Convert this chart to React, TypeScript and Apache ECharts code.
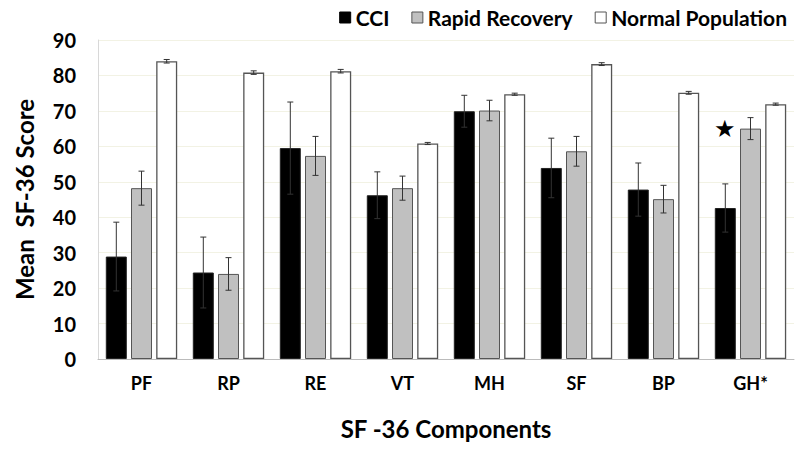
import React, { useEffect, useRef } from "react";
import * as echarts from "echarts";

const categories = ["PF", "RP", "RE", "VT", "MH", "SF", "BP", "GH*"];
const cciMean = [28.9, 24.4, 59.5, 46.2, 69.9, 53.9, 47.8, 42.6];
const cciErr = [9.7, 10.0, 13.0, 6.6, 4.5, 8.4, 7.5, 6.8];
const rrMean = [48.2, 24.0, 57.3, 48.2, 70.1, 58.6, 45.1, 65.0];
const rrErr = [4.8, 4.6, 5.5, 3.4, 2.9, 4.2, 3.9, 3.1];
const npMean = [84.0, 80.8, 81.2, 60.8, 74.7, 83.2, 75.1, 71.9];
const npErr = [0.5, 0.5, 0.5, 0.3, 0.3, 0.4, 0.4, 0.3];
const yTicks = [0, 10, 20, 30, 40, 50, 60, 70, 80, 90];
const starValue = 65.3;

const FONT = "Lato, 'Open Sans', sans-serif";
const BAR_W = 21;
const BAR_STEP = 25.2;

function errSeries(name: string, means: number[], errs: number[], idx: number) {
  return {
    type: "custom",
    name: name + " error",
    z: 10,
    silent: true,
    data: means.map((m, i) => [i, m - errs[i], m + errs[i]]),
    renderItem: (params: any, api: any) => {
      const c = api.value(0);
      const lo = api.coord([c, api.value(1)]);
      const hi = api.coord([c, api.value(2)]);
      const x = lo[0] + (idx - 1) * BAR_STEP;
      const cap = 3;
      const style = { stroke: "#333", lineWidth: 1 };
      return {
        type: "group",
        children: [
          { type: "line", shape: { x1: x, y1: hi[1], x2: x, y2: lo[1] }, style },
          { type: "line", shape: { x1: x - cap, y1: hi[1], x2: x + cap, y2: hi[1] }, style },
          { type: "line", shape: { x1: x - cap, y1: lo[1], x2: x + cap, y2: lo[1] }, style },
        ],
      };
    },
  };
}

export default function App() {
  const ref = useRef<HTMLDivElement>(null);
  useEffect(() => {
    if (!ref.current) return;
    const chart = echarts.init(ref.current, undefined, { renderer: "svg" });
    chart.setOption({
      animation: false,
      backgroundColor: "#ffffff",
      textStyle: { fontFamily: FONT },
      legend: {
        top: 2,
        right: 8,
        itemWidth: 11,
        itemHeight: 11,
        itemGap: 22,
        icon: "rect",
        textStyle: { fontFamily: FONT, fontSize: 21, fontWeight: "bold", color: "#000" },
        data: [
          { name: "CCI", itemStyle: { color: "#000", borderColor: "#000", borderWidth: 1 } },
          { name: "Rapid Recovery", itemStyle: { color: "#c0c0c0", borderColor: "#555", borderWidth: 1 } },
          { name: "Normal Population", itemStyle: { color: "#fff", borderColor: "#555", borderWidth: 1 } },
        ],
      },
      grid: { left: 98, right: 6, top: 40, bottom: 91 },
      xAxis: {
        type: "category",
        data: categories,
        name: "SF -36 Components",
        nameLocation: "middle",
        nameGap: 57,
        nameTextStyle: { fontFamily: FONT, fontSize: 24, fontWeight: "bold", color: "#000" },
        axisLine: { lineStyle: { color: "#bbb", width: 1 } },
        axisTick: { show: false },
        axisLabel: { fontFamily: FONT, fontSize: 18, fontWeight: "bold", color: "#000", margin: 15 },
      },
      yAxis: {
        type: "value",
        min: 0,
        max: 90,
        interval: 10,
        name: "Mean  SF-36 Score",
        nameLocation: "middle",
        nameGap: 62,
        nameTextStyle: { fontFamily: FONT, fontSize: 24, fontWeight: "bold", color: "#000" },
        axisLine: { show: true, lineStyle: { color: "#d8d8d8" } },
        axisTick: { show: false },
        splitLine: { lineStyle: { color: "#f2f2e4", width: 1 } },
        axisLabel: {
          fontFamily: FONT,
          fontSize: 20,
          fontWeight: "bold",
          color: "#000",
          margin: 22,
          formatter: (v: number) => (yTicks.includes(v) ? String(v) : ""),
        },
      },
      series: [
        {
          type: "bar",
          name: "CCI",
          data: cciMean,
          barWidth: BAR_W,
          barGap: "20%",
          itemStyle: { color: "#000", borderColor: "#222", borderWidth: 1 },
          markPoint: {
            silent: true,
            symbol: "circle",
            symbolSize: 0,
            data: [{ coord: [7, starValue] }],
            label: {
              show: true,
              formatter: "★",
              fontSize: 24,
              color: "#000",
              position: "inside",
            },
          },
        },
        {
          type: "bar",
          name: "Rapid Recovery",
          data: rrMean,
          barWidth: BAR_W,
          barGap: "20%",
          itemStyle: { color: "#c0c0c0", borderColor: "#555", borderWidth: 1 },
        },
        {
          type: "bar",
          name: "Normal Population",
          data: npMean,
          barWidth: BAR_W,
          barGap: "20%",
          itemStyle: { color: "#fff", borderColor: "#555", borderWidth: 1.3 },
        },
        errSeries("CCI", cciMean, cciErr, 0),
        errSeries("Rapid Recovery", rrMean, rrErr, 1),
        errSeries("Normal Population", npMean, npErr, 2),
      ],
    });
    return () => chart.dispose();
  }, []);
  return <div ref={ref} style={{ width: 800, height: 450, position: "absolute", left: 0, top: 0 }} />;
}
